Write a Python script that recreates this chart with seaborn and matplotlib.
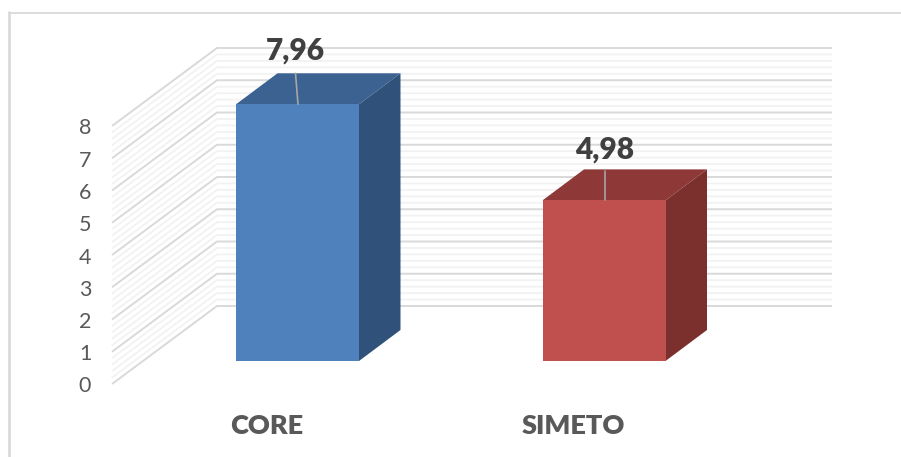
import numpy as np
import pandas as pd
import seaborn as sns
import matplotlib.pyplot as plt
from matplotlib.patches import Polygon

categories = ['CORE', 'SIMETO']
values = [7.96, 4.98]
value_labels = ['7,96', '4,98']
y_ticks = [0, 1, 2, 3, 4, 5, 6, 7, 8]
front_colors = ['#4F81BD', '#C0504D']
top_colors = ['#3C6291', '#8E3937']
side_colors = ['#30527A', '#7B302E']

# pixel layout of the fake 3d chart
W, H = 901, 457
base_px = 361      # bottom of the bars
unit_px = 32.25    # one y unit
first_bar_px = 297.5
step_px = 306.5
bar_px = 123
depth_x, depth_y = 41.5, 31

sns.set_theme(style='white')
plt.rcParams['font.family'] = ['Lato', 'DejaVu Sans']

fig = plt.figure(figsize=(W / 100, H / 100), dpi=100)
ax = fig.add_axes([0, 0, 1, 1])

df = pd.DataFrame({'cat': categories, 'val': values})
sns.barplot(data=df, x='cat', y='val', hue='cat', palette=front_colors, legend=False,
            width=bar_px / step_px, saturation=1, ax=ax, zorder=5, linewidth=0)


def X(px):
    return (px - first_bar_px) / step_px


def Y(px):
    return (base_px - px) / unit_px


ax.set_xlim(X(0), X(W))
ax.set_ylim(Y(H), Y(0))
ax.axis('off')

# walls: side wall + back wall lines, light every 0.2, darker on the integers
floor_front = (112, 384)
floor_back = (217, 306)
right_px = 832
for v in np.arange(0, 8.01, 0.2):
    major = abs(v - round(v)) < 1e-6
    col = '#D9D9D9' if major else '#F2F2F2'
    lw = 1.4 if major else 1.3
    z = 2 if major else 1
    ax.plot([X(floor_front[0]), X(floor_back[0]), X(right_px)],
            [Y(floor_front[1]) + v, Y(floor_back[1]) + v, Y(floor_back[1]) + v],
            color=col, lw=lw, zorder=z, solid_joinstyle='miter', solid_capstyle='butt')

# top and side of each bar, built from the bars seaborn drew
dx = depth_x / step_px
dy = depth_y / unit_px
for i, p in enumerate(ax.patches):
    x0, x1 = p.get_x(), p.get_x() + p.get_width()
    h = p.get_height()
    ax.add_patch(Polygon([(x0, h), (x1, h), (x1 + dx, h + dy), (x0 + dx, h + dy)],
                         facecolor=top_colors[i], edgecolor='none', zorder=4))
    ax.add_patch(Polygon([(x1, 0), (x1 + dx, dy), (x1 + dx, h + dy), (x1, h)],
                         facecolor=side_colors[i], edgecolor='none', zorder=4))

# value labels with their leader lines
label_shift = [-2, 0.5]
for i, v in enumerate(values):
    ax.plot([i + 0.5 / step_px, i + label_shift[i] / step_px], [v, v + 0.96 if i == 0 else v + 0.9],
            color='#A6A6A6', lw=1.2, zorder=6)
    ax.text(i + label_shift[i] / step_px, v + 1.67 if i == 0 else v + 1.58, value_labels[i],
            ha='center', va='center', fontsize=21.5, fontweight='heavy', color='#404040', zorder=7)

# y tick labels on the front edge of the side wall
for t in y_ticks:
    ax.text(X(85), Y(floor_front[1] + 2.5) + t, str(t), ha='center', va='center',
            fontsize=15.5, color='#595959')

# category labels sit left of the bars
for i, c in enumerate(categories):
    ax.text(i - 31 / step_px, Y(426), c, ha='center', va='center',
            fontsize=19.5, fontweight='heavy', color='#595959')

# chart frame, only top and left are visible
ax.plot([X(9), X(W)], [Y(12.5), Y(12.5)], color='#D9D9D9', lw=1.3, zorder=3)
ax.plot([X(9), X(9)], [Y(H), Y(11.5)], color='#D9D9D9', lw=1.9, zorder=3)

fig.savefig('out.png', dpi=100)
